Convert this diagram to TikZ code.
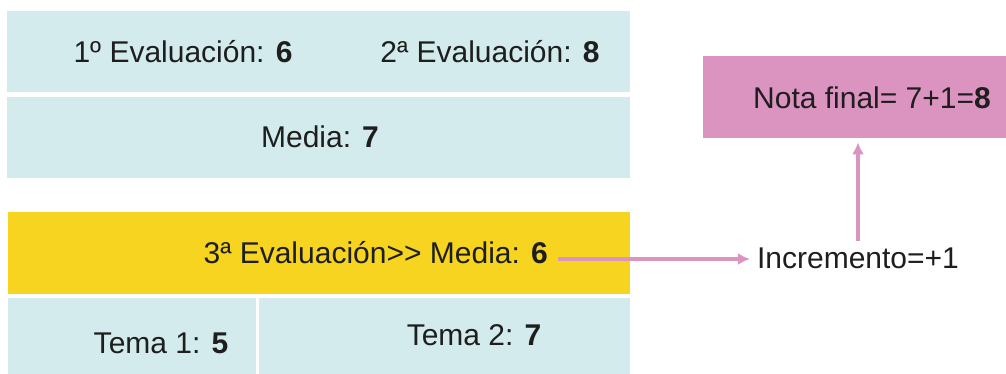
\documentclass[tikz,border=0pt]{standalone}
\usepackage{fontspec}
\setmainfont{Liberation Sans}
\usetikzlibrary{arrows.meta,calc}
\definecolor{cyanbg}{HTML}{D3EBEC}
\definecolor{yel}{HTML}{F6D420}
\definecolor{pnk}{HTML}{DB93C0}
\definecolor{ink}{HTML}{1E1E1E}
\begin{document}
\begin{tikzpicture}[x=1pt,y=-1pt,
  box/.style={fill=#1, draw=none, inner sep=0pt, anchor=north west},
  lbl/.style={font=\fontsize{30}{36}\selectfont, inner sep=0pt, text=ink},
  conn/.style={draw=pnk, line width=4pt, -{Latex[length=12pt,width=12pt]}}]
\useasboundingbox (0,0) rectangle (1006,374);
% boxes
\node[box=cyanbg, minimum width=623pt, minimum height=81pt] (b1) at (7,11) {};
\node[box=cyanbg, minimum width=623pt, minimum height=81pt] (b2) at (7,97) {};
\node[box=yel, minimum width=622pt, minimum height=82pt] (b3) at (8,212) {};
\node[box=cyanbg, minimum width=248pt, minimum height=76pt] (b4) at (8,298) {};
\node[box=cyanbg, minimum width=371pt, minimum height=76pt] (b5) at (259,298) {};
\node[box=pnk, minimum width=303pt, minimum height=82pt] (nota) at (703,56) {};
% labels
\node[lbl] (t1) at (183,52) {1º Evaluación: \textbf{6}};
\node[lbl] (t2) at (490,52) {2ª Evaluación: \textbf{8}};
\node[lbl] (t3) at (320,137) {Media: \textbf{7}};
\node[lbl, anchor=east] (t4) at (548,253) {3ª Evaluación{>}{>} Media: \textbf{6}};
\node[lbl] (t5) at (161,343) {Tema 1: \textbf{5}};
\node[lbl] (t6) at (474,335) {Tema 2: \textbf{7}};
\node[lbl] (t7) at (872,98) {Nota final= 7+1=\textbf{8}};
\node[lbl, inner xsep=7pt] (inc) at (858,258) {Incremento=+1};
% connectors
\coordinate (a1) at ($(t4.east)+(10,6)$);
\draw[conn] (a1) -- (a1 -| inc.west);
\draw[conn, shorten <=6pt, shorten >=4pt] (inc.north) -- (inc.north |- nota.south);
\end{tikzpicture}
\end{document}
